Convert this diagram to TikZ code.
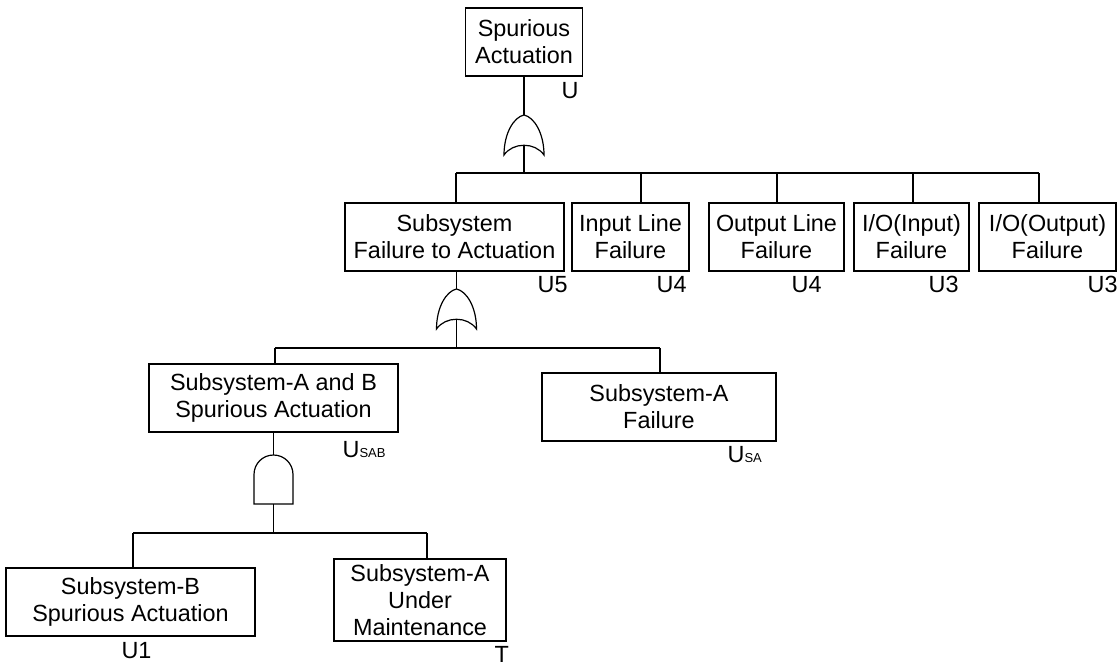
\documentclass[tikz,border=0pt]{standalone}
\usepackage{fontspec}
\setmainfont{Liberation Sans}
\tikzset{
  event/.style={draw, inner sep=0pt, align=center,
    font=\fontsize{23.4}{26.9}\selectfont},
  code/.style={inner sep=0pt, anchor=base west,
    font=\fontsize{23.4}{26.9}\selectfont},
  % fault-tree OR gate, origin at its top point
  orgate/.pic={
    \draw (-20,40) .. controls (-20,18) and (-10,2) .. (0,0)
                   .. controls (10,2) and (20,18) .. (20,40)
                   .. controls (11,27) and (-11,27) .. (-20,40) -- cycle;
    \coordinate (-top) at (0,0);
    \coordinate (-in) at (0,30);
  },
  % fault-tree AND gate, origin at its top point
  andgate/.pic={
    \draw (-19.5,49) -- (-19.5,19.5)
          .. controls (-19.5,8.7) and (-10.8,0) .. (0,0)
          .. controls (10.8,0) and (19.5,8.7) .. (19.5,19.5)
          -- (19.5,49) -- cycle;
    \coordinate (-top) at (0,0);
    \coordinate (-in) at (0,49);
  }
}
\newcommand{\subcode}[1]{{\fontsize{13}{13}\selectfont #1}}
\begin{document}
\begin{tikzpicture}[x=1pt, y=-1pt, line width=1.2pt]
\useasboundingbox (0,0) rectangle (1119,665);

% top event
\node[event, minimum width=117pt, minimum height=68pt] (top) at (524,42) {Spurious\\Actuation};
\node[code] (ltop) at (561,98) {U};
\pic (g1) at (524,115) {orgate};
\draw (top.south) -- (g1-top);

% first level
\node[event, minimum width=219pt, minimum height=68pt] (sf)  at (454.5,237) {Subsystem\\Failure to Actuation};
\node[event, minimum width=117pt, minimum height=68pt] (in)  at (630.5,237) {Input Line\\Failure};
\node[event, minimum width=135pt, minimum height=68pt] (out) at (776.5,237) {Output Line\\Failure};
\node[event, minimum width=115pt, minimum height=68pt] (ioi) at (911.5,237) {I/O(Input)\\Failure};
\node[event, minimum width=137pt, minimum height=68pt] (ioo) at (1047.5,237) {I/O(Output)\\Failure};

\node[code] (lsf)  at (537,292) {U5};
\node[code] (lin)  at (656,292) {U4};
\node[code] (lout) at (791,292) {U4};
\node[code] (lioi) at (928,292) {U3};
\node[code] (lioo) at (1087,292) {U3};

\coordinate (b1L) at (456,173);
\coordinate (b1R) at (1039,173);
\draw (b1L) -- (b1R);
\draw (g1-in) -- (g1-in |- b1L);
\foreach \n/\x in {sf/456, in/641, out/777, ioi/913, ioo/1039}{
  \coordinate (d\n) at (\x,173);
  \draw (d\n) -- (d\n |- \n.north);
}

% second level
\pic (g2) at (456.5,289) {orgate};
\draw (g2-top |- sf.south) -- (g2-top);

\node[event, minimum width=249pt, minimum height=68pt] (sab) at (273.5,398) {Subsystem-A and B\\Spurious Actuation};
\node[event, minimum width=234pt, minimum height=68pt] (sa)  at (659,407) {Subsystem-A\\Failure};
\node[code] (lsab) at (342,457) {U\subcode{SAB}};
\node[code] (lsa)  at (727,462) {U\subcode{SA}};

\coordinate (b2L) at (275,348);
\coordinate (b2R) at (660,348);
\draw (b2L) -- (b2R);
\draw (g2-in) -- (g2-in |- b2L);
\draw (b2L) -- (b2L |- sab.north);
\draw (b2R) -- (b2R |- sa.north);

% third level
\pic (g3) at (273.5,455) {andgate};
\draw (g3-top |- sab.south) -- (g3-top);

\node[event, minimum width=249pt, minimum height=68pt] (sb) at (130.5,602) {Subsystem-B\\Spurious Actuation};
\node[event, minimum width=172pt, minimum height=82pt] (sm) at (420,600) {Subsystem-A\\Under\\Maintenance};
\node[code] (lsb) at (121,658) {U1};
\node[code] (lsm) at (494,662) {T};

\coordinate (b3L) at (133,533);
\coordinate (b3R) at (427,533);
\draw (b3L) -- (b3R);
\draw (g3-in) -- (g3-in |- b3L);
\draw (b3L) -- (b3L |- sb.north);
\draw (b3R) -- (b3R |- sm.north);
\end{tikzpicture}
\end{document}
